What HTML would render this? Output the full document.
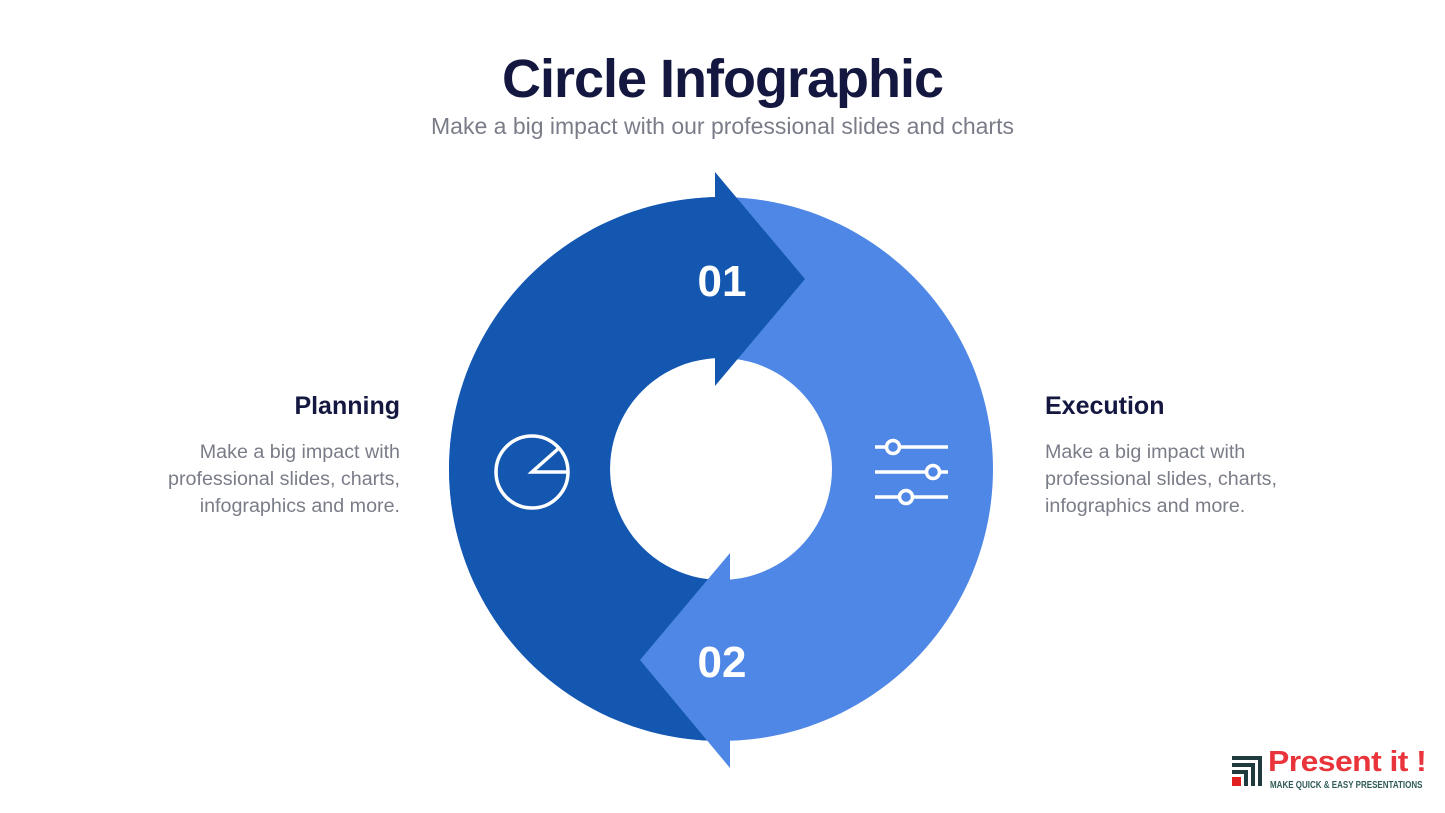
<!DOCTYPE html>
<html><head><meta charset="utf-8"><style>
body{margin:0;width:1445px;height:813px;background:#fff;position:relative;overflow:hidden;font-family:"Liberation Sans",sans-serif}
.t{position:absolute;white-space:nowrap}
</style></head><body>
<div class="t" style="left:0;width:1445px;text-align:center;top:48px;font-size:54px;font-weight:bold;color:#14173f;letter-spacing:-1px">Circle Infographic</div>
<div class="t" style="left:0;width:1445px;text-align:center;top:113px;font-size:23px;color:#7a7d88">Make a big impact with our professional slides and charts</div>
<svg width="1445" height="813" style="position:absolute;left:0;top:0">
<defs><clipPath id="l"><rect x="0" y="0" width="718" height="813"/></clipPath></defs>
<path fill-rule="evenodd" fill="#4f87e6" d="M721 197a272 272 0 1 0 0.01 0zM721 358a111 111 0 1 1 -0.01 0z"/>
<path fill-rule="evenodd" fill="#1357b0" clip-path="url(#l)" d="M721 197a272 272 0 1 0 0.01 0zM721 358a111 111 0 1 1 -0.01 0z"/>
<polygon fill="#1357b0" points="715,172 805,279 715,386"/>
<polygon fill="#4f87e6" points="730,553 730,768 640,660"/>
<text x="722" y="296" text-anchor="middle" font-family="Liberation Sans" font-weight="bold" font-size="44" fill="#fff">01</text>
<text x="722" y="677" text-anchor="middle" font-family="Liberation Sans" font-weight="bold" font-size="44" fill="#fff">02</text>
<g stroke="#fff" stroke-width="3.5" fill="none">
<circle cx="532" cy="472" r="36"/>
<polyline points="568,472 532,472 559,448"/>
<line x1="875" y1="447" x2="948" y2="447"/><line x1="875" y1="472" x2="948" y2="472"/><line x1="875" y1="497" x2="948" y2="497"/>
</g>
<g stroke="#fff" stroke-width="3.5" fill="#4f87e6">
<circle cx="893" cy="447" r="6.5"/><circle cx="933" cy="472" r="6.5"/><circle cx="906" cy="497" r="6.5"/>
</g>
<g fill="#1f3b3d">
<rect x="1232" y="756" width="30" height="4"/><rect x="1258" y="756" width="4" height="30"/>
<rect x="1232" y="763" width="23" height="4"/><rect x="1251" y="763" width="4" height="23"/>
<rect x="1232" y="770" width="16" height="4"/><rect x="1244" y="770" width="4" height="16"/>
</g>
<rect x="1232" y="777" width="9" height="9" fill="#e02020"/>
</svg>
<div class="t" style="right:1045px;top:392px;font-size:25px;font-weight:bold;color:#14173f">Planning</div>
<div class="t" style="right:1045px;top:439px;font-size:19.7px;line-height:27px;color:#7a7d88;text-align:right">Make a big impact with<br>professional slides, charts,<br>infographics and more.</div>
<div class="t" style="left:1045px;top:392px;font-size:25px;font-weight:bold;color:#14173f">Execution</div>
<div class="t" style="left:1045px;top:439px;font-size:19.7px;line-height:27px;color:#7a7d88">Make a big impact with<br>professional slides, charts,<br>infographics and more.</div>
<div class="t" style="left:1268px;top:746px;font-size:29px;font-weight:bold;color:#e8343a;letter-spacing:-0.5px;transform:scaleX(1.1);transform-origin:left">Present it !</div>
<div class="t" style="left:1270px;top:780px;font-size:10px;font-weight:bold;color:#2f5a58;transform:scaleX(0.8);transform-origin:left">MAKE QUICK &amp; EASY PRESENTATIONS</div>
</body></html>
